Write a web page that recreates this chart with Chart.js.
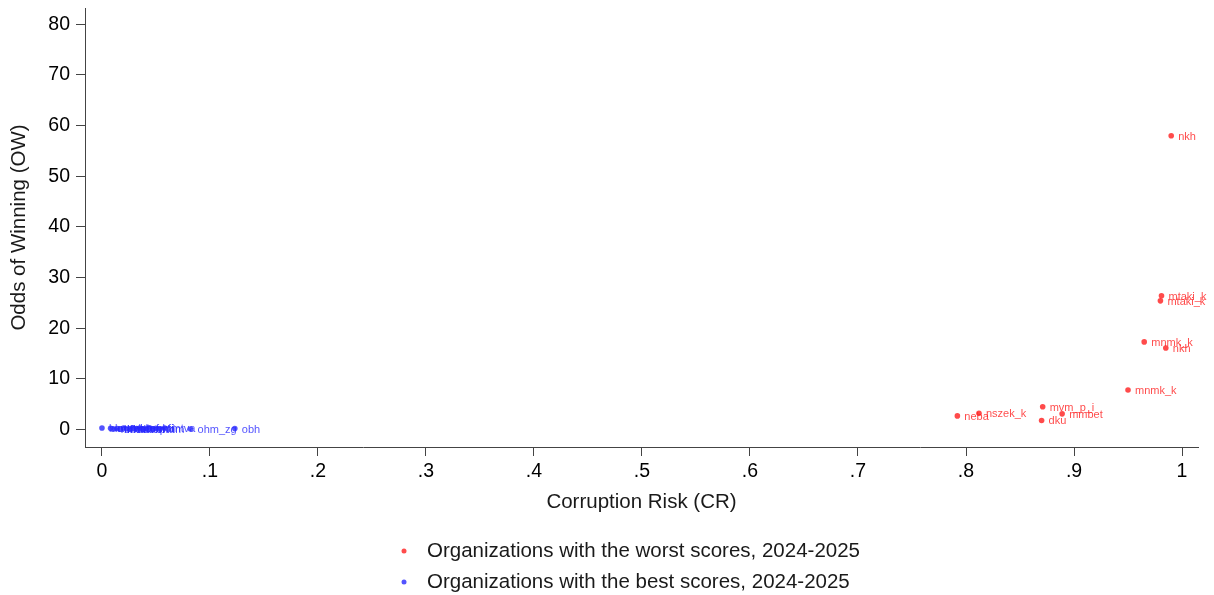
<!DOCTYPE html>
<html>
<head>
<meta charset="utf-8">
<script src="https://cdn.jsdelivr.net/npm/chart.js@4/dist/chart.umd.min.js"></script>
<style>
  html, body { margin: 0; padding: 0; background: #fff; }
  #wrap { width: 1214px; height: 595px; position: relative; }
</style>
</head>
<body>
<div id="wrap"><canvas id="scatter"></canvas></div>
<script>
// worst scores (red)
const worstNames = ['nkh', 'mtaki_k', 'mtaki_k', 'mnmk_k', 'nkh', 'mnmk_k', 'mvm_p_i', 'mmbet', 'dku', 'neba', 'nszek_k'];
const worstCR = [0.990, 0.981, 0.980, 0.965, 0.985, 0.950, 0.871, 0.889, 0.870, 0.792, 0.812];
const worstOW = [58.0, 26.4, 25.4, 17.3, 16.1, 7.8, 4.5, 3.1, 1.8, 2.7, 3.2];

// best scores (blue) - labels mostly unreadable, they pile up near zero
const bestNames = ['bkv', 'mavh', 'nif', 'bfk', 'kkm', 'mnb', 'nav', 'om', 'bm', 'ikm',
                   'tef', 'vm', 'am', 'nkfi', 'pm', 'mi', 'kim', 'mtva', 'ohm_zg', 'obh'];
const bestCR = [0.000, 0.008, 0.011, 0.014, 0.017, 0.020, 0.023, 0.026, 0.029, 0.032,
                0.035, 0.038, 0.041, 0.044, 0.047, 0.050, 0.054, 0.058, 0.082, 0.123];
const bestOW = [0.3, 0.25, 0.1, 0.2, 0.05, 0.3, 0.15, 0.1, 0.25, 0.2,
                0.3, 0.05, 0.2, 0.35, 0.1, 0.25, 0.15, 0.3, 0.1, 0.2];

const xTicks = [0, 0.1, 0.2, 0.3, 0.4, 0.5, 0.6, 0.7, 0.8, 0.9, 1];
const xTickLabels = ['0', '.1', '.2', '.3', '.4', '.5', '.6', '.7', '.8', '.9', '1'];
const yTicks = [0, 10, 20, 30, 40, 50, 60, 70, 80];

const legendLabels = ['Organizations with the worst scores, 2024-2025', 'Organizations with the best scores, 2024-2025'];

const RED = 'rgba(255, 30, 30, 0.8)';
const BLUE = 'rgba(40, 40, 255, 0.8)';
const FONT = '"Liberation Sans", Arial, sans-serif';

const toPoints = (xs, ys) => xs.map((x, i) => ({ x: x, y: ys[i] }));

// marker labels, drawn right of each point
const pointLabels = {
    id: 'pointLabels',
    afterDatasetsDraw(chart) {
        const ctx = chart.ctx;
        chart.data.datasets.forEach((ds, i) => {
            const meta = chart.getDatasetMeta(i);
            ctx.save();
            ctx.font = '11px ' + FONT;
            ctx.fillStyle = ds.backgroundColor;
            ctx.textBaseline = 'middle';
            meta.data.forEach((pt, j) => {
                ctx.fillText(ds.names[j], pt.x + 7, pt.y + 1);
            });
            ctx.restore();
        });
    }
};

// stacked legend under the axis title
const stackedLegend = {
    id: 'stackedLegend',
    afterDraw(chart) {
        const ctx = chart.ctx;
        const base = chart.chartArea.bottom;
        ctx.save();
        ctx.font = '20.5px ' + FONT;
        ctx.textBaseline = 'middle';
        chart.data.datasets.forEach((ds, i) => {
            const y = base + 104 + i * 31;
            ctx.fillStyle = ds.backgroundColor;
            ctx.beginPath();
            ctx.arc(404, y, 2.5, 0, Math.PI * 2);
            ctx.fill();
            ctx.fillStyle = '#1a1a1a';
            ctx.fillText(legendLabels[i], 427, y);
        });
        ctx.restore();
    }
};

const ctx = document.getElementById('scatter').getContext('2d');
const chart = new Chart(ctx, {
    type: 'scatter',
    data: {
        datasets: [
            {
                label: legendLabels[0],
                names: worstNames,
                data: toPoints(worstCR, worstOW),
                backgroundColor: RED,
                borderWidth: 0,
                pointRadius: 2.8
            },
            {
                label: legendLabels[1],
                names: bestNames,
                data: toPoints(bestCR, bestOW),
                backgroundColor: BLUE,
                borderWidth: 0,
                pointRadius: 2.8
            }
        ]
    },
    options: {
        responsive: true,
        maintainAspectRatio: false,
        animation: false,
        layout: { padding: { left: 0, top: 8, right: 16, bottom: 78 } },
        plugins: {
            legend: { display: false },
            tooltip: { enabled: false }
        },
        scales: {
            x: {
                type: 'linear',
                min: -0.0157,
                max: 1.0148,
                afterBuildTicks: (scale) => { scale.ticks = xTicks.map(v => ({ value: v })); },
                afterFit: (scale) => { scale.height = 70; scale.paddingLeft = 0; scale.paddingRight = 0; },
                ticks: {
                    autoSkip: false,
                    maxRotation: 0,
                    padding: 4,
                    color: '#000',
                    font: { size: 19.5, family: FONT },
                    callback: (v, i) => xTickLabels[i]
                },
                grid: { drawOnChartArea: false, drawTicks: true, tickLength: 9, color: '#444' },
                border: { display: true, color: '#444', width: 1 },
                title: {
                    display: true,
                    text: 'Corruption Risk (CR)',
                    color: '#1a1a1a',
                    font: { size: 20.5, family: FONT },
                    padding: { top: 4, bottom: 2 }
                }
            },
            y: {
                type: 'linear',
                min: -3.44,
                max: 83.2,
                afterBuildTicks: (scale) => { scale.ticks = yTicks.map(v => ({ value: v })); },
                afterFit: (scale) => { scale.width = 85; scale.paddingTop = 0; scale.paddingBottom = 0; },
                ticks: {
                    autoSkip: false,
                    padding: 6,
                    color: '#000',
                    font: { size: 19.5, family: FONT }
                },
                grid: { drawOnChartArea: false, drawTicks: true, tickLength: 9, color: '#444' },
                border: { display: true, color: '#444', width: 1 },
                title: {
                    display: true,
                    text: 'Odds of Winning (OW)',
                    color: '#1a1a1a',
                    font: { size: 20.5, family: FONT },
                    padding: { top: 7, bottom: 4 }
                }
            }
        }
    },
    plugins: [pointLabels, stackedLegend]
});
</script>
</body>
</html>
